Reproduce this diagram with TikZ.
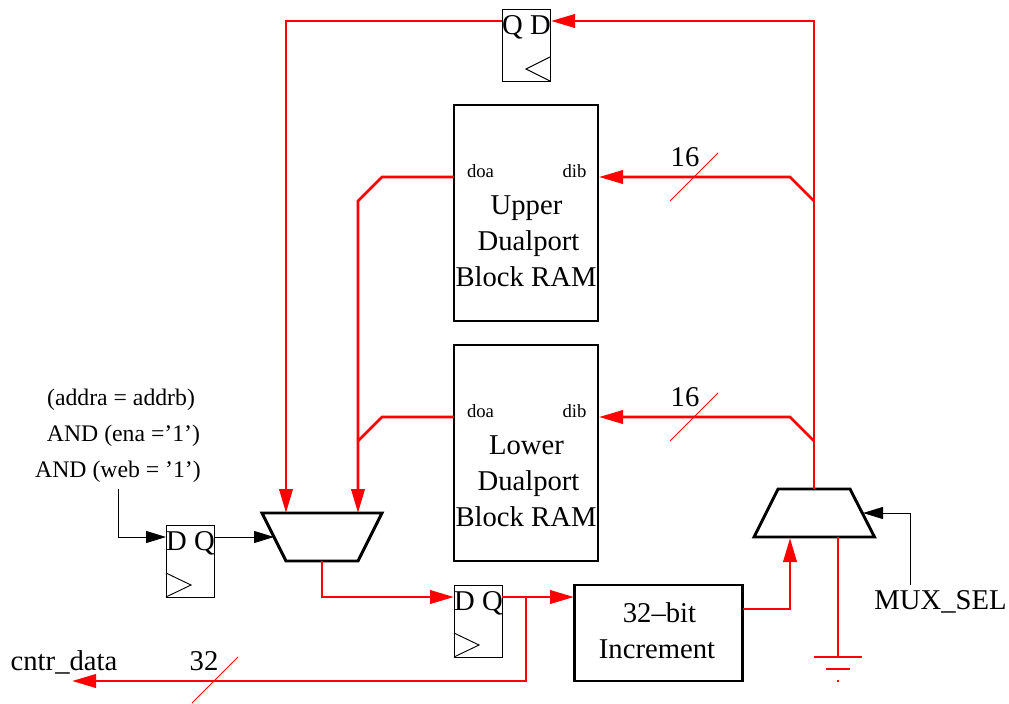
\documentclass[tikz,border=0pt]{standalone}
\usepackage{fontspec}
\setmainfont{Liberation Serif}
\usetikzlibrary{arrows.meta}
\definecolor{wirered}{RGB}{255,0,0}
\tikzset{
  x=0.75pt,y=-0.75pt,
  bigtext/.style={font=\fontsize{21.5}{24}\selectfont,inner sep=0pt,anchor=base,yshift=-0.75pt},
  midtext/.style={font=\fontsize{17.8}{20}\selectfont,inner sep=0pt,anchor=base},
  smalltext/.style={font=\fontsize{14}{16}\selectfont,inner sep=0pt,anchor=base},
  ffbox/.style={draw=black,line width=0.7pt,minimum width=36pt,minimum height=54pt,inner sep=0pt,outer sep=0pt,anchor=center},
  block/.style={draw=black,line width=2.2pt,inner sep=0pt,outer sep=0pt,anchor=center},
  muxshape/.style={draw=black,line width=2.2pt,line join=miter},
  redwire/.style={draw=wirered,line width=2pt,line join=miter},
  redarrow/.style={redwire,-{Triangle[length=18pt,width=10pt]}},
  blackwire/.style={draw=black,line width=0.7pt},
  blackarrow/.style={blackwire,-{Triangle[length=15pt,width=9pt]}},
  slash/.style={draw=wirered,line width=0.7pt},
  clock/.style={draw=black,line width=0.7pt,line join=miter}
}
\begin{document}
\begin{tikzpicture}
\useasboundingbox (0,0) rectangle (1009,703);
% blocks
\node[ffbox] (fftop) at (526,45) {};
\node[ffbox] (ffleft) at (190,561) {};
\node[ffbox] (ffmid) at (478,621) {};
\node[block,minimum width=108pt,minimum height=162pt] (ramu) at (526,213) {};
\node[block,minimum width=108pt,minimum height=162pt] (raml) at (526,453) {};
\node[block,minimum width=126.5pt,minimum height=72pt] (incr) at (658.5,633) {};
\draw[muxshape] (262,513) -- (382,513) -- (358,561) -- (286,561) -- cycle;
\draw[muxshape] (778,489) -- (850,489) -- (874.5,537) -- (754,537) -- cycle;
% flip-flop clock marks
\draw[clock] (550,57) -- (526,69) -- (550,81);
\draw[clock] (166,573) -- (191,585) -- (166,597);
\draw[clock] (454,633) -- (479,645) -- (454,657);
% pins and bends
\coordinate (topq) at (502,21);
\coordinate (topd) at (551,21);
\coordinate (topbend) at (286,21);
\coordinate (lmuxa) at (286,513);
\coordinate (lmuxb) at (358,513);
\coordinate (lmuxout) at (322,561);
\coordinate (lmuxs) at (274,537);
\coordinate (rmuxout) at (814,489);
\coordinate (rmuxa) at (790,538);
\coordinate (rmuxb) at (838,537);
\coordinate (rmuxs) at (863,513);
\coordinate (topright) at (814,21);
\coordinate (uj) at (814,201);
\coordinate (lj) at (814,441);
\coordinate (udoa) at (454,177);
\coordinate (udib) at (599,177);
\coordinate (ldoa) at (454,417);
\coordinate (ldib) at (599,417);
\coordinate (ljl) at (358,441);
\coordinate (ujl) at (358,201);
\coordinate (leftd) at (166,537);
\coordinate (leftq) at (214,537);
\coordinate (condend) at (118,489);
\coordinate (midd) at (454,597);
\coordinate (midq) at (502,597);
\coordinate (incrin) at (574,597);
\coordinate (branch) at (526,597);
\coordinate (incrout) at (743,609);
\coordinate (cntrend) at (72,681);
\coordinate (gnd) at (838,657);
\coordinate (selend) at (910,585);
% red wires
\draw[redarrow] (topq) -- (topbend) -- (lmuxa);
\draw[redarrow] (rmuxout) -- (topright) -- (topd);
\draw[redarrow] (uj) -- (790,177) -- (udib);
\draw[redarrow] (lj) -- (790,417) -- (ldib);
\draw[redarrow] (udoa) -- (382,177) -- (ujl) -- (lmuxb);
\draw[redwire] (ldoa) -- (382,417) -- (ljl);
\draw[redarrow] (lmuxout) -- (322,597) -- (midd);
\draw[redarrow] (midq) -- (incrin);
\draw[redarrow] (branch) -- (526,681) -- (cntrend);
\draw[redarrow] (incrout) -- (790,609) -- (rmuxa);
\draw[redwire] (rmuxb) -- (gnd);
\draw[redwire] (814,657) -- (862,657);
\draw[redwire] (826,669) -- (850,669);
\draw[redwire] (836.8,681) -- (839.2,681);
% black wires
\draw[blackarrow] (condend) -- (118,537) -- (leftd);
\draw[blackarrow] (leftq) -- (lmuxs);
\draw[blackarrow] (selend) -- (910,513) -- (rmuxs);
% bus slashes
\draw[slash] (670,201) -- (718,153);
\draw[slash] (670,441) -- (718,393);
\draw[slash] (192,703) -- (238,657);
% text
\node[bigtext] (tqd) at (526.5,33) {Q D};
\node[bigtext] (ldq) at (190.5,549) {D Q};
\node[bigtext] (mdq) at (478.5,609) {D Q};
\node[smalltext] (t1) at (480.5,177) {doa};
\node[smalltext] (t2) at (574.5,177) {dib};
\node[smalltext] (t3) at (480.5,417) {doa};
\node[smalltext] (t4) at (574.5,417) {dib};
\node[bigtext] (t5) at (526.5,213) {Upper};
\node[bigtext] (t6) at (528.5,249) {Dualport};
\node[bigtext] (t7) at (526,285) {Block RAM};
\node[bigtext] (t8) at (526.5,453) {Lower};
\node[bigtext] (t9) at (528.5,489) {Dualport};
\node[bigtext] (t10) at (526,525) {Block RAM};
\node[bigtext] (t11) at (685,165) {16};
\node[bigtext] (t12) at (685,405) {16};
\node[bigtext] (t13) at (204,669) {32};
\node[bigtext] (t14) at (64,669) {cntr\_data};
\node[bigtext] (t15) at (659.5,621) {32–bit};
\node[bigtext] (t16) at (657,657) {Increment};
\node[bigtext] (t17) at (940.5,608) {MUX\_SEL};
\node[midtext] (t18) at (121,405) {(addra = addrb)};
\node[midtext] (t19) at (123.5,441) {AND (ena =’1’)};
\node[midtext] (t20) at (118,477) {AND (web = ’1’)};
\end{tikzpicture}
\end{document}
